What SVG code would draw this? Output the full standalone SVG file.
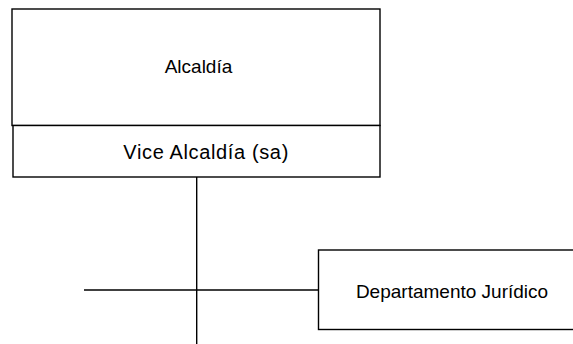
<svg xmlns="http://www.w3.org/2000/svg" width="573" height="344" viewBox="0 0 573 344">
  <style>
    .box { fill: #ffffff; stroke: #000000; stroke-width: 1.4; }
    .lbl { font-family: "Liberation Sans", Arial, sans-serif; font-size: 19px; fill: #000000; text-anchor: middle; }
    .wire { stroke: #000000; stroke-width: 1.4; fill: none; }
  </style>
  <rect x="0" y="0" width="573" height="344" fill="#ffffff"/>

  <!-- connectors -->
  <g id="connectors">
    <line class="wire" x1="196.7" y1="177" x2="196.7" y2="344"/>
    <line class="wire" x1="84" y1="290" x2="318.5" y2="290"/>
  </g>

  <!-- nodes -->
  <g id="alcaldia">
    <rect class="box" x="12" y="9" width="368" height="116.5"/>
    <text class="lbl" x="198.5" y="73.3">Alcaldía</text>
  </g>
  <g id="vice-alcaldia">
    <rect class="box" x="13" y="125.5" width="367" height="51.5"/>
    <text class="lbl" x="205.8" y="159" style="font-size:20px" textLength="165" lengthAdjust="spacing">Vice Alcaldía (sa)</text>
  </g>
  <g id="departamento-juridico">
    <rect class="box" x="318.5" y="250" width="270" height="79.5"/>
    <text class="lbl" x="452" y="297.5">Departamento Jurídico</text>
  </g>
</svg>
